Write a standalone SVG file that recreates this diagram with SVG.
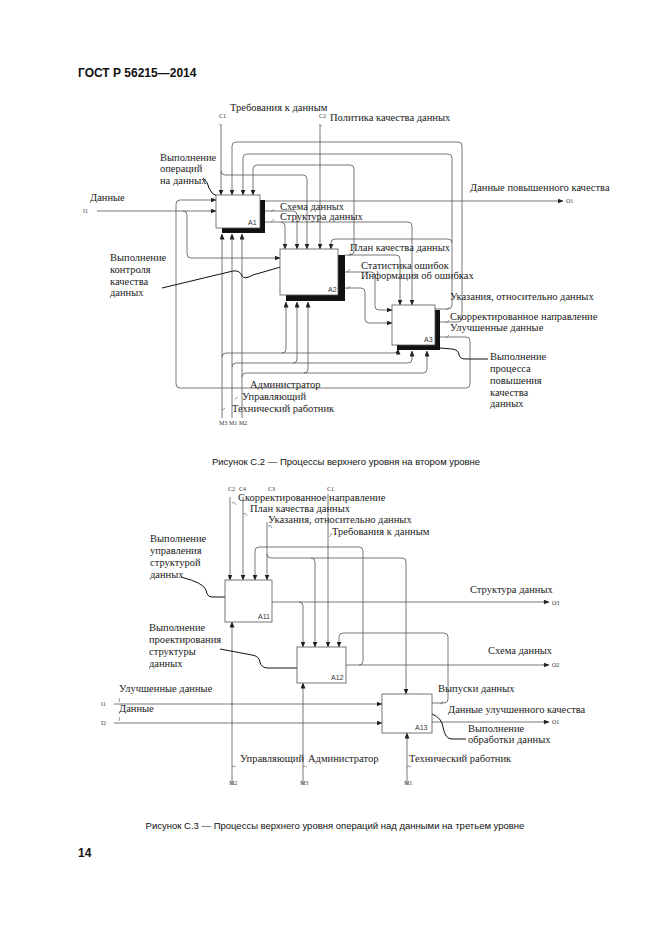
<svg xmlns="http://www.w3.org/2000/svg" width="661" height="935" viewBox="0 0 661 935">
<defs>
<marker id="ar" markerWidth="6" markerHeight="5" refX="5.5" refY="2.5" orient="auto" markerUnits="userSpaceOnUse">
<path d="M0,0 L6,2.5 L0,5 Z" fill="#222"/>
</marker>
<style>
.c{fill:none;stroke:#555;stroke-width:0.8}
.a{marker-end:url(#ar)}
.b{fill:#fff;stroke:#555;stroke-width:0.8}
.s{fill:#111}
.t{font-family:"Liberation Serif","DejaVu Serif",serif;font-size:10.5px;fill:#222}
.k{font-family:"Liberation Serif","DejaVu Serif",serif;font-size:6px;fill:#333}
.bl{font-family:"Liberation Sans",Arial,sans-serif;font-size:7px;fill:#333}
.h{font-family:"Liberation Sans",Arial,sans-serif;font-size:12px;font-weight:bold;fill:#111}
.cap{font-family:"Liberation Sans",Arial,sans-serif;font-size:9.5px;fill:#111}
.ld{fill:none;stroke:#111;stroke-width:1}
.q{fill:none;stroke:#555;stroke-width:0.6}
</style>
</defs>
<rect width="661" height="935" fill="#fff"/>
<text class="h" x="78" y="77">ГОСТ Р 56215—2014</text>

<!-- ===== Figure C.2 connectors ===== -->
<g id="connectors-c2">
<path class="c a" d="M221,125 V195"/>
<path class="c a" d="M221,171 Q221,175 225,175 H303 Q307,175 307,179 V249"/>
<path class="c a" d="M435,322 H458 Q462,322 462,318 V146 Q462,142 458,142 H236 Q232,142 232,146 V195"/>
<path class="c a" d="M435,309 H448 Q452,309 452,305 V158 Q452,154 448,154 H247 Q243,154 243,158 V195"/>
<path class="c a" d="M452,243 Q452,239 448,239 H335 Q331,239 331,243 V249"/>
<path class="c a" d="M345,255 H396 Q400,255 400,259 V305"/>
<path class="c a" d="M350,255 Q354,255 354,251 V169 Q354,165 350,165 H257 Q253,165 253,169 V195"/>
<path class="c a" d="M265,222 H408 Q412,222 412,226 V305"/>
<path class="c a" d="M281,222 Q285,222 285,226 V249"/>
<path class="c a" d="M265,211 H293 Q297,211 297,215 V249"/>
<path class="c a" d="M265,201 H563"/>
<path class="c a" d="M320,125 V249"/>
<path class="c a" d="M97,211 H216"/>
<path class="c a" d="M183,211 Q187,211 187,215 V254 Q187,258 191,258 H280"/>
<path class="c a" d="M440,337 H466 Q470,337 470,341 V384 Q470,388 466,388 H180 Q176,388 176,384 V204 Q176,200 180,200 H216"/>
<path class="c a" d="M345,272 H371 Q375,272 375,276 V306 Q375,310 379,310 H392"/>
<path class="c a" d="M345,288 H361 Q365,288 365,292 V319 Q365,323 369,323 H392"/>
<path class="c a" d="M222,418 V234"/>
<path class="c a" d="M222,357 Q222,353 226,353 H394 Q398,353 398,349"/>
<path class="c a" d="M282,353 Q286,353 286,349 V302"/>
<path class="c a" d="M232,418 V234"/>
<path class="c a" d="M232,367 Q232,363 236,363 H408 Q412,363 412,359 V351"/>
<path class="c a" d="M293,363 Q297,363 297,359 V302"/>
<path class="c a" d="M242,418 V234"/>
<path class="c a" d="M242,377 Q242,373 246,373 H423 Q427,373 427,369 V351"/>
<path class="c a" d="M304,373 Q308,373 308,369 V302"/>
<!-- label ticks -->
<path class="q" d="M219,124 q1,2 3,1"/>
<path class="q" d="M319,124 q1,2 3,1"/>
<path class="q" d="M271,212 q2,-1 3,-3"/>
<path class="q" d="M271,222 q2,-1 3,-3"/>
<path class="q" d="M348,256 q2,-1 3,-3"/>
<path class="q" d="M347,272 q2,-1 3,-3"/>
<path class="q" d="M347,289 q2,-1 3,-3"/>
<path class="q" d="M446,310 q2,-1 3,-3"/>
<path class="q" d="M446,323 q2,-1 3,-3"/>
<path class="q" d="M446,338 q2,-1 3,-3"/>
<path class="q" d="M235,399 q2,-1 3,-2"/>
<path class="q" d="M222,410 q2,-1 3,-2"/>
</g>

<!-- leaders C.2 -->
<path class="ld" d="M203,178 Q208,182 209,188 Q211,194 217,196"/>
<path class="ld" d="M162,288 L233,271 Q240,270 242,276 Q244,280 253,275 L284,266"/>
<path class="ld" d="M440,348 L452,349 Q459,350 459,355 Q460,359 466,359 L488,359"/>

<!-- ===== Figure C.2 nodes ===== -->
<g id="A1">
<rect class="s" x="260" y="200" width="5" height="33"/>
<rect class="s" x="222" y="228" width="43" height="5"/>
<rect class="b" x="216" y="195" width="44" height="33"/>
<text class="bl" x="248" y="225">A1</text>
</g>
<g id="A2">
<rect class="s" x="338" y="255" width="7" height="46"/>
<rect class="s" x="286" y="295" width="59" height="6"/>
<rect class="b" x="280" y="249" width="58" height="46"/>
<text class="bl" x="328" y="292">A2</text>
</g>
<g id="A3">
<rect class="s" x="435" y="310" width="5" height="40"/>
<rect class="s" x="397" y="345" width="43" height="5"/>
<rect class="b" x="392" y="305" width="43" height="40"/>
<text class="bl" x="424" y="342">A3</text>
</g>

<!-- texts C.2 -->
<g id="labels-c2">
<text class="t" x="230" y="111">Требования к данным</text>
<text class="k" x="219" y="118">C1</text>
<text class="k" x="319" y="118">C2</text>
<text class="t" x="330" y="121">Политика качества данных</text>
<text class="t" x="160" y="161">Выполнение</text>
<text class="t" x="160" y="172">операций</text>
<text class="t" x="160" y="184">на данных</text>
<text class="t" x="90" y="201">Данные</text>
<text class="k" x="83" y="213">I1</text>
<text class="t" x="470" y="191">Данные повышенного качества</text>
<text class="k" x="566" y="203">O1</text>
<text class="t" x="280" y="210">Схема данных</text>
<text class="t" x="280" y="220">Структура данных</text>
<text class="t" x="350" y="251">План качества  данных</text>
<text class="t" x="361" y="269">Статистика ошибок</text>
<text class="t" x="361" y="279">Информация об ошибках</text>
<text class="t" x="450" y="300">Указания, относительно данных</text>
<text class="t" x="450" y="320">Скорректированное направление</text>
<text class="t" x="450" y="331">Улучшенные данные</text>
<text class="t" x="490" y="360">Выполнение</text>
<text class="t" x="490" y="372">процесса</text>
<text class="t" x="490" y="384">повышения</text>
<text class="t" x="490" y="396">качества</text>
<text class="t" x="490" y="407">данных</text>
<text class="t" x="110" y="261">Выполнение</text>
<text class="t" x="110" y="273">контроля</text>
<text class="t" x="110" y="285">качества</text>
<text class="t" x="110" y="296">данных</text>
<text class="t" x="250" y="388">Администратор</text>
<text class="t" x="242" y="400">Управляющий</text>
<text class="t" x="232" y="412">Технический работник</text>
<text class="k" x="219" y="425">M3</text>
<text class="k" x="229" y="425">M1</text>
<text class="k" x="239" y="425">M2</text>
</g>
<text class="cap" x="346" y="465" text-anchor="middle">Рисунок С.2 — Процессы верхнего уровня на втором уровне</text>

<!-- ===== Figure C.3 connectors ===== -->
<g id="connectors-c3">
<path class="c a" d="M230,497 V580"/>
<path class="c a" d="M243,497 V580"/>
<path class="c a" d="M267,522 V580"/>
<path class="c a" d="M267,554 Q267,558 271,558 H402 Q406,558 406,562 V694"/>
<path class="c a" d="M311,558 Q315,558 315,562 V647"/>
<path class="c a" d="M328,494 V647"/>
<path class="c a" d="M346,665 H549"/>
<path class="c a" d="M359,665 Q363,665 363,661 V551 Q363,547 359,547 H259 Q255,547 255,551 V580"/>
<path class="c a" d="M272,602 H549"/>
<path class="c a" d="M299,602 Q303,602 303,606 V647"/>
<path class="c a" d="M432,703 H444 Q448,703 448,699 V637 Q448,633 444,633 H343 Q339,633 339,637 V647"/>
<path class="c a" d="M432,722 H549"/>
<path class="c a" d="M114,704 H382"/>
<path class="c a" d="M114,723 H382"/>
<path class="c a" d="M232,785 V622"/>
<path class="c a" d="M303,785 V683"/>
<path class="c a" d="M407,785 V733"/>
<path class="q" d="M232,503 q3,-2 4,2"/>
<path class="q" d="M243,514 q3,-2 4,2"/>
<path class="q" d="M268,526 q3,-2 4,2"/>
<path class="q" d="M329,537 q2,-2 3,-4"/>
<path class="q" d="M119,702 q1,-2 0,-4"/>
<path class="q" d="M119,721 q1,-2 0,-4"/>
<path class="q" d="M440,704 q3,0 3,-3"/>
<path class="q" d="M545,604 q0,-2 -2,-3"/>
<path class="q" d="M545,667 q0,-2 -2,-3"/>
<path class="q" d="M545,724 q0,-2 -2,-3"/>
<path class="q" d="M232,767 q2,-2 4,0"/>
<path class="q" d="M303,767 q2,-2 4,0"/>
<path class="q" d="M407,767 q2,-2 4,0"/>
</g>

<!-- leaders C.3 -->
<path class="ld" d="M181,577 Q204,583 206,590 Q207,597 212,597 L234,597"/>
<path class="ld" d="M220,649 L252,655 Q259,656 260,662 Q261,668 268,668 L301,668"/>
<path class="ld" d="M432,714 Q442,718 443,727 Q445,739 452,739 L466,739"/>

<!-- ===== Figure C.3 nodes ===== -->
<g id="A11">
<rect class="b" x="225" y="580" width="47" height="42"/>
<text class="bl" x="258" y="619">A11</text>
</g>
<g id="A12">
<rect class="b" x="297" y="647" width="49" height="36"/>
<text class="bl" x="331" y="680">A12</text>
</g>
<g id="A13">
<rect class="b" x="382" y="694" width="50" height="39"/>
<text class="bl" x="415" y="730">A13</text>
</g>

<g id="labels-c3">
<text class="k" x="228" y="491">C2</text>
<text class="k" x="239" y="491">C4</text>
<text class="k" x="268" y="491">C3</text>
<text class="k" x="327" y="491">C1</text>
<text class="t" x="238" y="501">Скорректированное направление</text>
<text class="t" x="250" y="512">План качества  данных</text>
<text class="t" x="268" y="523">Указания, относительно данных</text>
<text class="t" x="332" y="535">Требования к данным</text>
<text class="t" x="150" y="542">Выполнение</text>
<text class="t" x="150" y="554">управления</text>
<text class="t" x="150" y="566">структурой</text>
<text class="t" x="150" y="578">данных</text>
<text class="t" x="470" y="593">Структура данных</text>
<text class="k" x="552" y="605">O3</text>
<text class="t" x="149" y="631">Выполнение</text>
<text class="t" x="149" y="643">проектирования</text>
<text class="t" x="149" y="655">структуры</text>
<text class="t" x="149" y="667">данных</text>
<text class="t" x="488" y="654">Схема данных</text>
<text class="k" x="552" y="667">O2</text>
<text class="t" x="119" y="692">Улучшенные данные</text>
<text class="k" x="101" y="706">I1</text>
<text class="t" x="119" y="712">Данные</text>
<text class="k" x="101" y="725">I2</text>
<text class="t" x="438" y="692">Выпуски данных</text>
<text class="t" x="448" y="713">Данные улучшенного качества</text>
<text class="k" x="552" y="724">O1</text>
<text class="t" x="468" y="732">Выполнение</text>
<text class="t" x="468" y="743">обработки  данных</text>
<text class="t" x="240" y="762">Управляющий</text>
<text class="t" x="308" y="762">Администратор</text>
<text class="t" x="409" y="762">Технический работник</text>
<text class="k" x="229" y="785">M2</text>
<text class="k" x="300" y="785">M3</text>
<text class="k" x="404" y="785">M1</text>
</g>
<text class="cap" x="335" y="829" text-anchor="middle">Рисунок С.3 — Процессы верхнего уровня операций над данными на третьем уровне</text>
<text class="h" x="78" y="857">14</text>
</svg>
